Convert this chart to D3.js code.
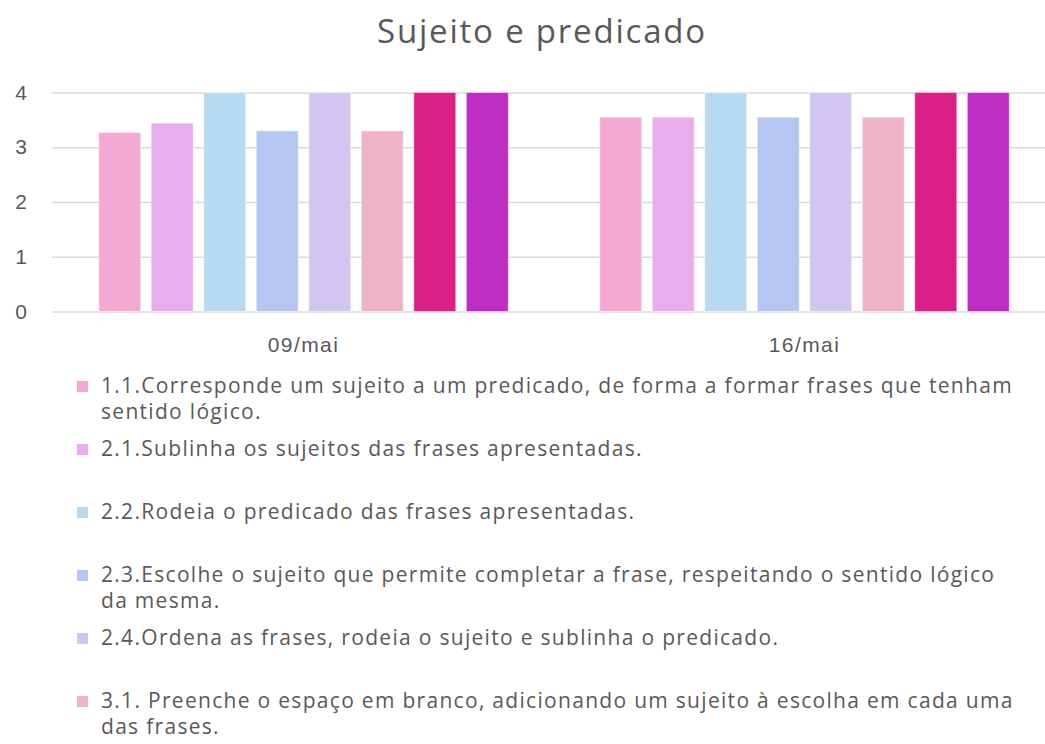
<!DOCTYPE html>
<html>
<head>
<meta charset="utf-8">
<script src="https://cdn.jsdelivr.net/npm/d3@7"></script>
<style>
  body { margin: 0; background: #fff; }
  svg { display: block; font-family: "Open Sans", sans-serif; }
</style>
</head>
<body>
<div class="chart"></div>
<script>
const dates = ['09/mai', '16/mai'];
const seriesNames = [
  '1.1.Corresponde um sujeito a um predicado, de forma a formar frases que tenham sentido lógico.',
  '2.1.Sublinha os sujeitos das frases apresentadas.',
  '2.2.Rodeia o predicado das frases apresentadas.',
  '2.3.Escolhe o sujeito que permite completar a frase, respeitando o sentido lógico da mesma.',
  '2.4.Ordena as frases, rodeia o sujeito e sublinha o predicado.',
  '3.1. Preenche o espaço em branco, adicionando um sujeito à escolha em cada uma das frases.',
  '3.2.',
  '3.3.'
];
const values09 = [3.27, 3.44, 4, 3.3, 4, 3.3, 4, 4];
const values16 = [3.55, 3.55, 4, 3.55, 4, 3.55, 4, 4];
const colors = ['#f2aad2', '#e9acec', '#b8daf0', '#b4c7f2', '#d0c6f0', '#edb4c6', '#dc1e87', '#be2ec4'];
const yTicks = [0, 1, 2, 3, 4];

function drawChart() {
  const w = 1045;
  const h = 744;
  const textColor = '#595959';
  const table = dates.map((d, i) => ({
    date: d,
    values: (i === 0 ? values09 : values16).map((v, j) => ({ series: j, value: v }))
  }));

  const x0 = d3.scaleBand()
    .domain(dates)
    .range([53, 1055]);
  const x1 = d3.scaleBand()
    .domain(d3.range(seriesNames.length))
    .range([0, x0.bandwidth()])
    .paddingInner(0.2)
    .paddingOuter(0.87);
  const yScale = d3.scaleLinear()
    .domain([0, 4])
    .range([311.5, 92.5]);

  const svg = d3.select('.chart')
    .append('svg')
    .attr('width', w)
    .attr('height', h);

  svg.append('text')
    .attr('x', 542)
    .attr('y', 43)
    .attr('text-anchor', 'middle')
    .attr('fill', textColor)
    .style('font-size', '33px')
    .style('letter-spacing', '1.8px')
    .text('Sujeito e predicado');

  // gridlines + y labels
  svg.append('g')
    .attr('class', 'y-axis')
    .attr('transform', 'translate(52, 0)')
    .call(d3.axisLeft(yScale)
      .tickValues(yTicks)
      .tickSize(-(w - 52))
      .tickPadding(25)
      .tickFormat(d3.format('d')))
    .call((g) => g.select('.domain').remove())
    .call((g) => g.selectAll('line').attr('stroke', '#d9d9d9').attr('stroke-width', 1.5))
    .call((g) => g.selectAll('text').attr('fill', textColor).style('font-size', '21px'));

  svg.append('g')
    .attr('class', 'x-axis')
    .attr('transform', 'translate(0, 311.5)')
    .call(d3.axisBottom(x0).tickSize(0).tickPadding(26))
    .call((g) => g.select('.domain').remove())
    .call((g) => g.selectAll('text').attr('fill', textColor)
      .style('font-size', '21px').style('letter-spacing', '1.4px'));

  svg.append('g')
    .selectAll('g')
    .data(table)
    .join('g')
    .attr('transform', (d) => `translate(${x0(d.date)}, 0)`)
    .selectAll('rect')
    .data((d) => d.values)
    .join('rect')
    .attr('x', (d) => x1(d.series))
    .attr('y', (d) => yScale(d.value))
    .attr('width', x1.bandwidth())
    .attr('height', (d) => yScale(0) - yScale(d.value))
    .attr('fill', (d) => colors[d.series])
    .attr('stroke', '#fff')
    .attr('stroke-opacity', 0.5)
    .attr('stroke-width', 1);

  // legend (entries below the picture are left out, as in the cropped original)
  const maxWidth = 915;
  const legend = svg.append('g').attr('class', 'legend');
  seriesNames.forEach((name, i) => {
    const y = 386 + i * 63;
    if (y > h - 20) return;
    const item = legend.append('g').attr('transform', `translate(0, ${y})`);
    item.append('rect')
      .attr('x', 77)
      .attr('y', -5)
      .attr('width', 11)
      .attr('height', 11)
      .attr('fill', colors[i]);
    const text = item.append('text')
      .attr('x', 101)
      .attr('y', 7)
      .attr('fill', textColor)
      .style('font-size', '21px')
      .style('letter-spacing', '1.3px');
    const words = name.split(' ');
    let line = [];
    let tspan = text.append('tspan').attr('x', 101).attr('dy', 0);
    words.forEach((word) => {
      line.push(word);
      tspan.text(line.join(' '));
      if (tspan.node().getComputedTextLength() > maxWidth && line.length > 1) {
        line.pop();
        tspan.text(line.join(' '));
        line = [word];
        tspan = text.append('tspan').attr('x', 101).attr('dy', 26).text(word);
      }
    });
  });
}

drawChart();
</script>
</body>
</html>
